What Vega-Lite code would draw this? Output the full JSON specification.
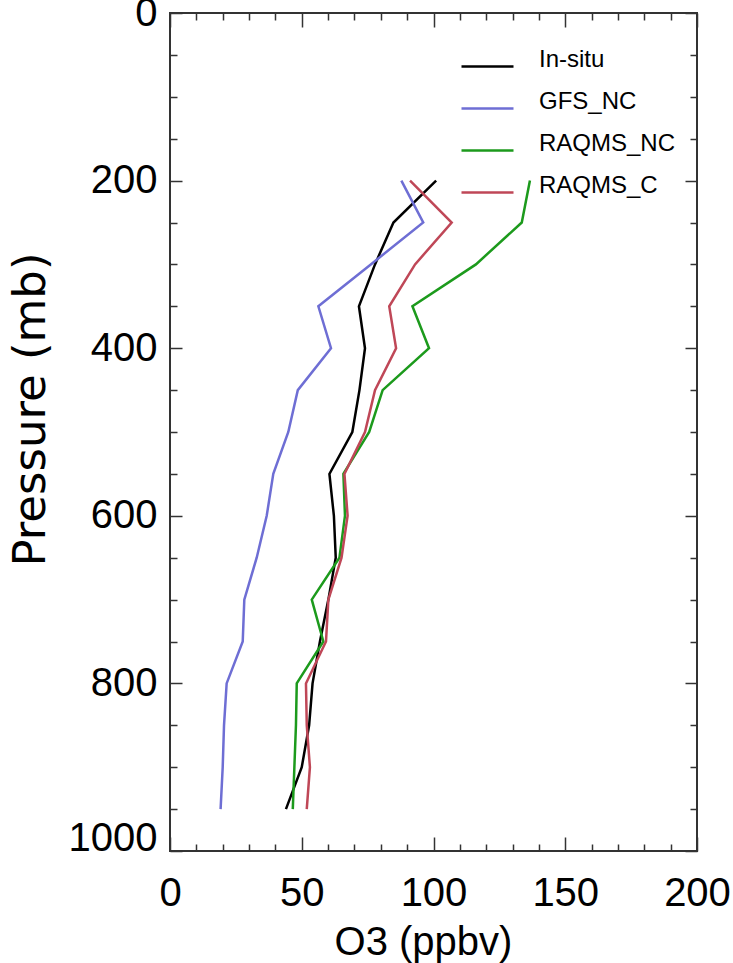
{
  "$schema": "https://vega.github.io/schema/vega-lite/v6.json",
  "autosize": {"type": "none"},
  "padding": {"left": 170, "top": 13, "right": 36, "bottom": 112},
  "width": 527,
  "height": 838,
  "background": "white",
  "config": {
    "view": {"stroke": "#333333", "strokeWidth": 2},
    "axis": {"grid": false, "domain": false, "tickColor": "#333333", "tickWidth": 1.5, "labelColor": "#000000", "titleColor": "#000000"}
  },
  "datasets": {
    "profiles": [
      {"series": "In-situ", "p": 200, "o3": 101.0},
      {"series": "In-situ", "p": 250, "o3": 84.8},
      {"series": "In-situ", "p": 300, "o3": 77.8},
      {"series": "In-situ", "p": 350, "o3": 71.7},
      {"series": "In-situ", "p": 400, "o3": 74.0},
      {"series": "In-situ", "p": 450, "o3": 71.9},
      {"series": "In-situ", "p": 500, "o3": 69.2},
      {"series": "In-situ", "p": 550, "o3": 60.5},
      {"series": "In-situ", "p": 600, "o3": 62.2},
      {"series": "In-situ", "p": 650, "o3": 62.9},
      {"series": "In-situ", "p": 700, "o3": 60.1},
      {"series": "In-situ", "p": 750, "o3": 56.9},
      {"series": "In-situ", "p": 800, "o3": 54.1},
      {"series": "In-situ", "p": 850, "o3": 52.8},
      {"series": "In-situ", "p": 900, "o3": 50.0},
      {"series": "In-situ", "p": 950, "o3": 44.0},
      {"series": "GFS_NC", "p": 200, "o3": 87.8},
      {"series": "GFS_NC", "p": 250, "o3": 96.1},
      {"series": "GFS_NC", "p": 300, "o3": 76.2},
      {"series": "GFS_NC", "p": 350, "o3": 56.3},
      {"series": "GFS_NC", "p": 400, "o3": 61.1},
      {"series": "GFS_NC", "p": 450, "o3": 48.5},
      {"series": "GFS_NC", "p": 500, "o3": 44.9},
      {"series": "GFS_NC", "p": 550, "o3": 39.2},
      {"series": "GFS_NC", "p": 600, "o3": 36.7},
      {"series": "GFS_NC", "p": 650, "o3": 32.9},
      {"series": "GFS_NC", "p": 700, "o3": 28.2},
      {"series": "GFS_NC", "p": 750, "o3": 27.6},
      {"series": "GFS_NC", "p": 800, "o3": 21.5},
      {"series": "GFS_NC", "p": 850, "o3": 20.5},
      {"series": "GFS_NC", "p": 900, "o3": 20.0},
      {"series": "GFS_NC", "p": 950, "o3": 19.2},
      {"series": "RAQMS_NC", "p": 200, "o3": 136.6},
      {"series": "RAQMS_NC", "p": 250, "o3": 133.5},
      {"series": "RAQMS_NC", "p": 300, "o3": 116.1},
      {"series": "RAQMS_NC", "p": 350, "o3": 92.0},
      {"series": "RAQMS_NC", "p": 400, "o3": 98.3},
      {"series": "RAQMS_NC", "p": 450, "o3": 80.7},
      {"series": "RAQMS_NC", "p": 500, "o3": 75.6},
      {"series": "RAQMS_NC", "p": 550, "o3": 65.8},
      {"series": "RAQMS_NC", "p": 600, "o3": 66.4},
      {"series": "RAQMS_NC", "p": 650, "o3": 64.3},
      {"series": "RAQMS_NC", "p": 700, "o3": 53.8},
      {"series": "RAQMS_NC", "p": 750, "o3": 58.2},
      {"series": "RAQMS_NC", "p": 800, "o3": 48.1},
      {"series": "RAQMS_NC", "p": 850, "o3": 47.8},
      {"series": "RAQMS_NC", "p": 900, "o3": 47.2},
      {"series": "RAQMS_NC", "p": 950, "o3": 46.6},
      {"series": "RAQMS_C", "p": 200, "o3": 91.1},
      {"series": "RAQMS_C", "p": 250, "o3": 106.9},
      {"series": "RAQMS_C", "p": 300, "o3": 93.0},
      {"series": "RAQMS_C", "p": 350, "o3": 83.2},
      {"series": "RAQMS_C", "p": 400, "o3": 85.8},
      {"series": "RAQMS_C", "p": 450, "o3": 77.8},
      {"series": "RAQMS_C", "p": 500, "o3": 74.0},
      {"series": "RAQMS_C", "p": 550, "o3": 66.2},
      {"series": "RAQMS_C", "p": 600, "o3": 67.4},
      {"series": "RAQMS_C", "p": 650, "o3": 65.1},
      {"series": "RAQMS_C", "p": 700, "o3": 60.1},
      {"series": "RAQMS_C", "p": 750, "o3": 59.2},
      {"series": "RAQMS_C", "p": 800, "o3": 51.6},
      {"series": "RAQMS_C", "p": 850, "o3": 51.9},
      {"series": "RAQMS_C", "p": 900, "o3": 53.1},
      {"series": "RAQMS_C", "p": 950, "o3": 51.9}
    ]
  },
  "data": {"name": "profiles"},
  "resolve": {"axis": {"x": "independent", "y": "independent"}},
  "layer": [
    {
      "mark": {"type": "line", "strokeWidth": 2.5},
      "encoding": {
        "x": {
          "field": "o3", "type": "quantitative",
          "scale": {"domain": [0, 200], "nice": false, "zero": false},
          "axis": {
            "orient": "bottom", "values": [0, 50, 100, 150, 200], "ticks": false, "format": "d",
            "labelFont": "Liberation Sans", "labelFontSize": 40, "labelBaseline": "alphabetic",
            "labelPadding": 54, "labelFlush": false,
            "title": "O3 (ppbv)", "titleFont": "Liberation Sans", "titleFontSize": 40, "titleFontWeight": "normal",
            "titleX": 253, "titleY": 103, "titleBaseline": "alphabetic", "titleAlign": "center"
          }
        },
        "y": {
          "field": "p", "type": "quantitative",
          "scale": {"domain": [0, 1000], "reverse": true, "nice": false, "zero": false},
          "axis": {
            "orient": "left", "values": [0, 200, 400, 600, 800, 1000], "ticks": false, "format": "d",
            "labelFont": "Liberation Sans", "labelFontSize": 40, "labelPadding": 13, "labelFlush": false,
            "labelOffset": {"condition": {"test": "datum.value === 1000", "value": -13}, "value": 0},
            "title": "Pressure (mb)", "titleFont": "DejaVu Sans", "titleFontSize": 45, "titleFontWeight": "normal",
            "titleX": -126, "titleY": 396, "titleBaseline": "alphabetic", "titleAlign": "center", "titleAngle": 270
          }
        },
        "color": {
          "field": "series", "type": "nominal",
          "scale": {"domain": ["In-situ", "GFS_NC", "RAQMS_NC", "RAQMS_C"], "range": ["#000000", "#6e6ed4", "#1c9a1c", "#bf4757"]},
          "legend": {
            "orient": "none", "legendX": 290, "legendY": 26, "title": null, "padding": 0,
            "symbolType": "stroke", "symbolSize": 2704, "symbolStrokeWidth": 2.5,
            "labelFont": "Liberation Sans", "labelFontSize": 24, "labelColor": "#000000",
            "labelOffset": 24, "labelBaseline": "alphabetic", "rowPadding": 9, "labelLimit": 300
          }
        },
        "order": {"field": "p", "type": "quantitative"}
      }
    },
    {
      "mark": {"type": "point", "opacity": 0},
      "encoding": {
        "x": {"field": "o3", "type": "quantitative", "scale": {"domain": [0, 200], "nice": false, "zero": false},
          "axis": {"orient": "bottom", "values": [0, 50, 100, 150, 200], "labels": false, "tickSize": -14, "title": null}},
        "y": {"field": "p", "type": "quantitative", "scale": {"domain": [0, 1000], "reverse": true, "nice": false, "zero": false},
          "axis": {"orient": "left", "values": [0, 200, 400, 600, 800, 1000], "labels": false, "tickSize": -12, "title": null}}
      }
    },
    {
      "mark": {"type": "point", "opacity": 0},
      "encoding": {
        "x": {"field": "o3", "type": "quantitative", "scale": {"domain": [0, 200], "nice": false, "zero": false},
          "axis": {"orient": "top", "values": [0, 50, 100, 150, 200], "labels": false, "tickSize": -14, "title": null}},
        "y": {"field": "p", "type": "quantitative", "scale": {"domain": [0, 1000], "reverse": true, "nice": false, "zero": false},
          "axis": {"orient": "right", "values": [0, 200, 400, 600, 800, 1000], "labels": false, "tickSize": -12, "title": null}}
      }
    },
    {
      "mark": {"type": "point", "opacity": 0},
      "encoding": {
        "x": {"field": "o3", "type": "quantitative", "scale": {"domain": [0, 200], "nice": false, "zero": false},
          "axis": {"orient": "bottom", "values": [10, 20, 30, 40, 60, 70, 80, 90, 110, 120, 130, 140, 160, 170, 180, 190], "labels": false, "tickSize": -7, "title": null}},
        "y": {"field": "p", "type": "quantitative", "scale": {"domain": [0, 1000], "reverse": true, "nice": false, "zero": false},
          "axis": {"orient": "left", "values": [50, 100, 150, 250, 300, 350, 450, 500, 550, 650, 700, 750, 850, 900, 950], "labels": false, "tickSize": -7, "title": null}}
      }
    },
    {
      "mark": {"type": "point", "opacity": 0},
      "encoding": {
        "x": {"field": "o3", "type": "quantitative", "scale": {"domain": [0, 200], "nice": false, "zero": false},
          "axis": {"orient": "top", "values": [10, 20, 30, 40, 60, 70, 80, 90, 110, 120, 130, 140, 160, 170, 180, 190], "labels": false, "tickSize": -7, "title": null}},
        "y": {"field": "p", "type": "quantitative", "scale": {"domain": [0, 1000], "reverse": true, "nice": false, "zero": false},
          "axis": {"orient": "right", "values": [50, 100, 150, 250, 300, 350, 450, 500, 550, 650, 700, 750, 850, 900, 950], "labels": false, "tickSize": -7, "title": null}}
      }
    }
  ]
}
